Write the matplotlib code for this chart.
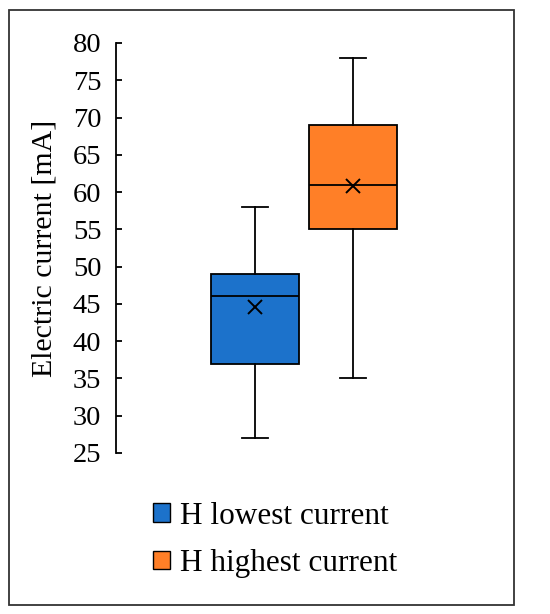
import matplotlib
matplotlib.use("Agg")
import matplotlib.pyplot as plt
from matplotlib.patches import Patch, Rectangle

labels = ["H lowest current", "H highest current"]
colors = ["#1C72CB", "#FF7F27"]
whislo = [27, 35]
q1 = [37, 55]
med = [46, 61]
q3 = [49, 69]
whishi = [58, 78]
means = [44.6, 60.8]
yticks = [25, 30, 35, 40, 45, 50, 55, 60, 65, 70, 75, 80]

plt.rcParams['font.family'] = ['Liberation Serif', 'DejaVu Serif']

fig = plt.figure(figsize=(5.5, 6.14), dpi=100)
ax = fig.add_axes([116/550, 1-453/614, (490-116)/550, (453-43)/614])

stats = []
for i in range(2):
    stats.append(dict(label=labels[i], whislo=whislo[i], q1=q1[i], med=med[i],
                      q3=q3[i], whishi=whishi[i], mean=means[i], fliers=[]))

lw = 1.3
bp = ax.bxp(stats, positions=[1, 2], widths=0.9, patch_artist=True,
            showmeans=True, showfliers=False,
            boxprops=dict(linewidth=lw, edgecolor='black'),
            medianprops=dict(color='black', linewidth=lw),
            whiskerprops=dict(color='black', linewidth=lw),
            capprops=dict(color='black', linewidth=lw),
            meanprops=dict(marker='x', markeredgecolor='black', markersize=10,
                           markeredgewidth=1.4),
            capwidths=0.26)
for patch, c in zip(bp['boxes'], colors):
    patch.set_facecolor(c)

ax.set_xlim(1 - (255-116)/98, 2 + (490-353)/98)
ax.set_ylim(25, 80)
ax.set_yticks(yticks)
ax.set_xticks([])
for s in ['top', 'right', 'bottom']:
    ax.spines[s].set_visible(False)
ax.spines['left'].set_linewidth(1.3)
ax.tick_params(axis='y', direction='in', length=4.5, width=1.3, labelsize=20.5, pad=10.5)
ax.set_ylabel("Electric current [mA]", fontsize=21.5, labelpad=11)

handles = [Patch(facecolor=c, edgecolor='black', linewidth=1.0) for c in colors]
fig.legend(handles, labels, loc='center', bbox_to_anchor=(0.5, 1-540/614),
           frameon=False, fontsize=22.5, handlelength=0.54, handleheight=0.54,
           handletextpad=0.32, labelspacing=0.59)

fig.patches.append(Rectangle((9/550, 1-605/614), (514-9)/550, (605-10)/614,
                             transform=fig.transFigure, fill=False,
                             edgecolor='#333333', linewidth=1.3))

fig.savefig("out.png", dpi=100)
